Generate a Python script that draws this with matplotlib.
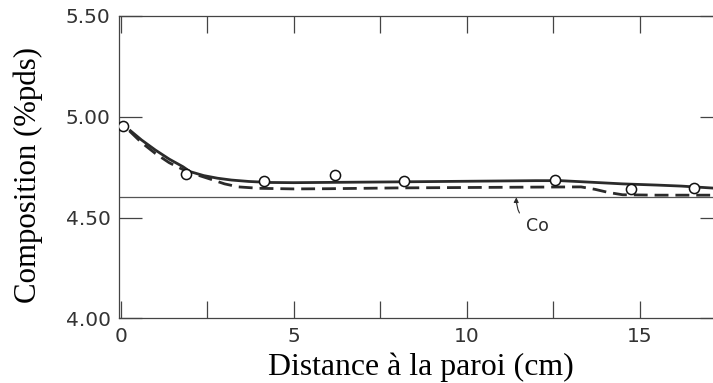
import matplotlib.pyplot as plt

# measured points (open circles)
dist_pts = [0.08, 1.88, 4.13, 6.19, 8.18, 12.56, 14.73, 16.56]
comp_pts = [4.955, 4.714, 4.681, 4.711, 4.681, 4.684, 4.643, 4.648]

# solid curve
dist_solid = [0.25, 0.6, 1.0, 1.4, 1.8, 2.0, 2.4, 2.8, 3.2, 3.7, 4.3, 5.0, 6.5,
              8.0, 10.0, 12.0, 12.7, 13.5, 14.5, 15.5, 16.2, 17.4]
comp_solid = [4.935, 4.885, 4.835, 4.79, 4.752, 4.728, 4.708, 4.695, 4.686, 4.679,
              4.674, 4.673, 4.675, 4.677, 4.680, 4.683, 4.683, 4.676, 4.667, 4.661,
              4.656, 4.643]

# dashed curve
dist_dash = [0.25, 0.6, 1.0, 1.4, 1.8, 2.2, 2.6, 3.0, 3.4, 4.0, 5.0, 6.0, 8.0,
             10.0, 12.0, 13.3, 13.7, 14.1, 14.5, 15.5, 17.4]
comp_dash = [4.93, 4.872, 4.818, 4.772, 4.738, 4.712, 4.69, 4.667, 4.652, 4.645,
             4.642, 4.643, 4.647, 4.649, 4.651, 4.652, 4.640, 4.624, 4.613, 4.611,
             4.611]

c0 = 4.60

ink = '#2b2b2b'
fig = plt.figure(figsize=(7.13, 3.83), dpi=100)
ax = fig.add_axes([119 / 713, 64.7 / 383, 604 / 713, 302.3 / 383])

ax.axhline(c0, color='#555555', lw=0.9)
ax.plot(dist_solid, comp_solid, color=ink, lw=2.0, solid_capstyle='butt')
ax.plot(dist_dash, comp_dash, color=ink, lw=2.0, dashes=(5, 2.5))
ax.plot(dist_pts, comp_pts, 'o', ms=7.3, mfc='white', mec='#111111', mew=1.1,
        zorder=5)

ax.annotate('Co', xy=(11.43, c0), xytext=(12.05, 4.458), fontsize=12.5,
            color=ink, ha='center', va='center',
            arrowprops=dict(arrowstyle='-|>', color=ink, lw=0.8,
                            mutation_scale=7, shrinkB=0, shrinkA=5,
                            connectionstyle='arc3,rad=-0.4'))

ax.set_xlim(-0.05, 17.4)
ax.set_ylim(4.0, 5.5)
ax.set_xticks([0, 5, 10, 15])
ax.set_xticks([2.5, 7.5, 12.5], minor=True)
ax.set_yticks([4.0, 4.5, 5.0, 5.5])
ax.set_yticklabels(['4.00', '4.50', '5.00', '5.50'])
ax.set_xticklabels(['0', '5', '10', '15'])

ax.tick_params(axis='x', which='both', direction='in', length=12, width=0.9,
               top=True, color='#444444')
ax.tick_params(axis='y', direction='in', length=16.5, width=0.9, right=True,
               color='#444444')
ax.tick_params(axis='both', labelsize=14.5, labelcolor='#333333', pad=6)

for s in ax.spines.values():
    s.set_color('#444444')
    s.set_linewidth(0.9)

serif = 'Liberation Serif'
ax.set_xlabel('Distance à la paroi (cm)', family=serif, fontsize=22.9, va='top')
ax.set_ylabel('Composition (%pds)', family=serif, fontsize=22.2)
ax.xaxis.set_label_coords(0.5, -0.114)
ax.yaxis.set_label_coords(-0.126, 0.474)

fig.savefig('out.png', dpi=100)
